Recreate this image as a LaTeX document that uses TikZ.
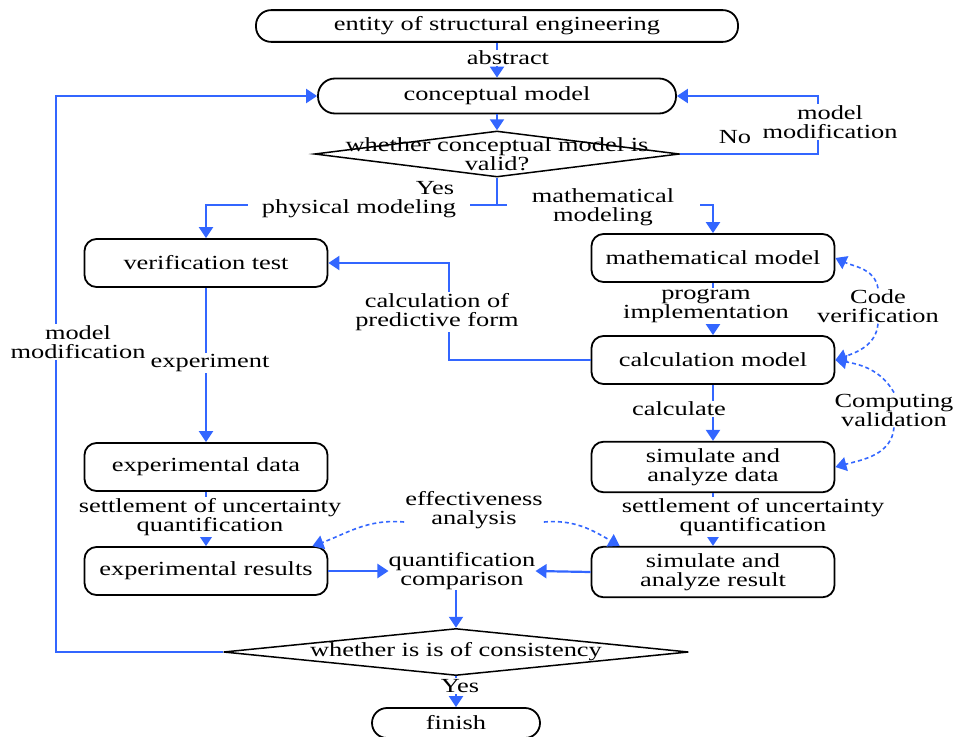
\documentclass[tikz,border=0pt]{standalone}
\usepackage{fontspec}
\setmainfont{Liberation Serif}[FakeStretch=1.32]
\usetikzlibrary{arrows.meta,shapes.geometric}
\definecolor{flowblue}{RGB}{51,102,255}
\tikzset{>={Triangle[length=11pt,width=14pt]}}
\tikzstyle{box}=[draw, line width=1.8pt, rounded corners=12pt, minimum width=243pt, minimum height=48pt, align=center]
\tikzstyle{pill}=[draw, line width=1.8pt, rounded corners=15pt, minimum height=30pt]
\tikzstyle{choice}=[draw, diamond, line width=1.5pt, inner sep=0pt]
\tikzstyle{flow}=[flowblue, line width=2.2pt]
\tikzstyle{check}=[->, flowblue, line width=1.6pt, dash pattern=on 4pt off 3pt]
\tikzstyle{tag}=[fill=white, inner sep=1pt, align=center]

\begin{document}
\begin{tikzpicture}[x=1pt, y=-1pt, node font=\fontsize{20}{19}\selectfont]
    \useasboundingbox (0,0) rectangle (955,736);
    % Top of the chart
    \node[pill, minimum width=482pt] (entity) at (497,26) {entity of structural engineering};
    \node[pill, minimum width=358pt, minimum height=35pt, rounded corners=17pt] (concept) at (497,96) {conceptual model};
    \node[choice, minimum width=365pt, minimum height=46pt] (valid) at (497,154) {};
    \node[align=center, inner sep=0pt] (validtext) at (497,154) {whether conceptual model is\\valid?};

    % Two columns of boxes
    \node[box] (verify) at (206,263) {verification test};
    \node[box] (expdata) at (206,467) {experimental data};
    \node[box] (expres) at (206,571) {experimental results};
    \node[box] (mathm) at (713,258) {mathematical model};
    \node[box] (calcm) at (713,360) {calculation model};
    \node[box] (simdata) at (713,467) {simulate and\\analyze data};
    \node[box] (simres) at (713,572) {simulate and\\analyze result};

    % Bottom of the chart
    \node[align=center, inner sep=0pt] (qcomp) at (462,571) {quantification\\comparison};
    \node[choice, minimum width=465pt, minimum height=47pt] (consist) at (456,652) {};
    \node[inner sep=0pt] (consisttext) at (456,652) {whether is is of consistency};
    \node[pill, minimum width=168pt] (finish) at (456,723) {finish};

    % Main flow
    \draw[flow,->] (entity) -- (concept);
    \node[tag] (abstract) at (508,58) {abstract};
    \draw[flow,->] (concept) -- (valid);
    \draw[flow,->] (valid.east) -- ++(138,0) |- (concept.east); % No: back to the model
    \node (no) at (735,137) {No};
    \node[tag] (modright) at (830,122) {model\\modification};
    \coordinate (split) at (497,205);
    \draw[flow] (valid.south) -- (split);
    \draw[flow,->] (split) -| (verify.north);
    \draw[flow,->] (split) -| (mathm.north);
    \node[inner sep=1pt] (yes) at (435,188) {Yes};
    \node[tag, minimum width=222pt] (physical) at (359,209) {physical modeling};
    \node[tag, minimum width=193pt] (mathmod) at (603,207) {mathematical\\modeling};

    % Left column
    \draw[flow,->] (verify) -- (expdata);
    \node[tag] (experiment) at (210,363) {experiment};
    \draw[flow,->] (expdata) -- (expres);
    \node[tag] (settleleft) at (210,517) {settlement of uncertainty\\quantification};

    % Right column
    \draw[flow,->] (mathm) -- (calcm);
    \node[tag] (program) at (706,306) {program\\implementation};
    \draw[flow,->] (calcm) -- (simdata);
    \node[tag] (calculate) at (679,409) {calculate};
    \draw[flow,->] (simdata) -- (simres);
    \node[tag] (settleright) at (753,517) {settlement of uncertainty\\quantification};

    % Prediction back to the test
    \draw[flow,->] (calcm.west) -- (449,360) |- (verify.east);
    \node[tag] (predict) at (437,312) {calculation of\\predictive form};

    % Verification and validation loops
    \node[align=center, inner sep=1pt] (codev) at (878,306) {Code\\verification};
    \node[align=center, inner sep=1pt] (compv) at (894,410) {Computing\\validation};
    \draw[check] (codev.north) to[out=100, in=-25] (mathm.east);
    \draw[check] (codev.south) to[out=-95, in=20] (calcm.east);
    \draw[check] (compv.north) to[out=120, in=-10] (calcm.east);
    \draw[check] (compv.south) to[out=-95, in=15] (simdata.east);

    % Comparison of the results
    \node[align=center, inner sep=1pt] (effect) at (474,510) {effectiveness\\analysis};
    \draw[check] ([yshift=-12pt]effect.west) to[out=175, in=20] ([xshift=-16pt]expres.north east);
    \draw[check] ([yshift=-12pt]effect.east) to[out=5, in=150] ([xshift=29pt]simres.north west);
    \draw[flow,->] (expres.east) -- (qcomp.west);
    \draw[flow,->] (simres.west) -- (qcomp.east);
    \draw[flow,->] (consist.north |- qcomp.south) -- (consist.north);

    % End or modify the model
    \draw[flow,->] (consist) -- (finish);
    \node[tag] (yesend) at (460,686) {Yes};
    \draw[flow,->] (consist.west) -- (56,652) |- (concept.west);
    \node[tag] (modleft) at (78,342) {model\\modification};
\end{tikzpicture}
\end{document}
